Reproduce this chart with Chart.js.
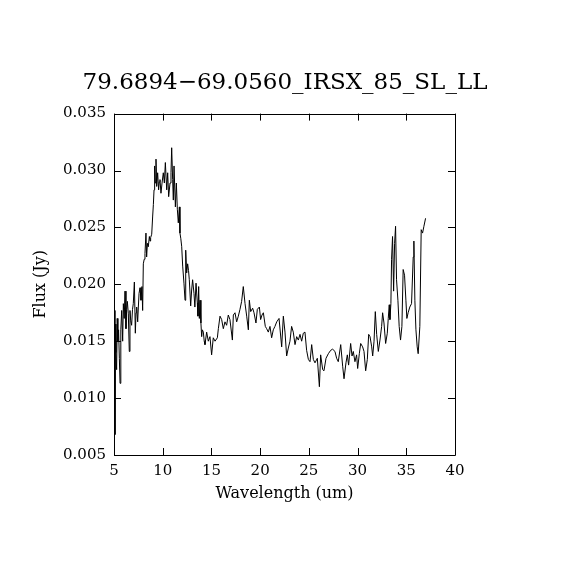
<!DOCTYPE html>
<html>
<head>
<meta charset="utf-8">
<script src="https://cdn.jsdelivr.net/npm/chart.js@4"></script>
<style>
html,body{margin:0;padding:0;background:#fff;}
#wrap{width:570px;height:570px;}
</style>
</head>
<body>
<div id="wrap"><canvas id="c" width="570" height="570"></canvas></div>
<script>
const chartTitle = "79.6894\u221269.0560_IRSX_85_SL_LL";
const xTitle = "Wavelength (um)";
const yTitle = "Flux (Jy)";
const xTicks = [5, 10, 15, 20, 25, 30, 35, 40];
const yTicks = [0.005, 0.010, 0.015, 0.020, 0.025, 0.030, 0.035];

const wavelength = [
5.05,5.10,5.15,5.20,5.27,5.33,5.40,5.47,5.55,5.62,5.70,5.79,5.89,5.96,6.05,6.13,6.23,6.30,6.37,6.47,
6.57,6.64,6.72,6.81,6.90,6.98,7.09,7.19,7.26,7.33,7.43,7.50,7.57,7.67,7.77,7.87,7.94,8.01,8.10,8.18,
8.28,8.35,8.43,8.52,8.63,8.70,8.76,8.87,8.97,9.04,9.11,9.17,9.24,9.31,9.38,9.48,9.58,9.65,9.72,9.82,
9.93,10.06,10.17,10.27,10.41,10.51,10.61,10.75,10.85,10.92,11.02,11.09,11.16,11.30,11.40,11.50,11.60,11.71,11.77,11.86,
11.95,12.05,12.18,12.29,12.36,12.46,12.56,12.65,12.73,12.87,12.97,13.07,13.21,13.30,13.42,13.55,13.62,13.69,13.76,13.83,
13.92,14.00,14.07,14.17,14.26,14.34,14.51,14.68,14.85,15.02,15.19,15.37,15.61,15.71,15.88,16.05,16.22,16.39,16.56,16.73,
16.90,17.15,17.25,17.42,17.59,17.76,17.93,18.10,18.27,18.45,18.62,18.79,18.89,19.03,19.23,19.37,19.57,19.71,19.92,20.05,
20.19,20.33,20.53,20.67,20.84,21.01,21.18,21.35,21.52,21.70,21.94,22.21,22.38,22.55,22.72,22.89,23.06,23.23,23.40,23.58,
23.75,23.92,24.09,24.26,24.43,24.60,24.77,24.95,25.12,25.29,25.46,25.63,25.87,26.08,26.21,26.42,26.55,26.76,27.00,27.24,
27.44,27.68,27.85,28.02,28.27,28.47,28.61,28.81,28.95,29.08,29.29,29.43,29.56,29.73,29.90,30.01,30.18,30.32,30.52,30.66,
30.83,31.00,31.14,31.28,31.45,31.55,31.69,31.82,31.96,32.13,32.30,32.47,32.57,32.71,32.88,33.05,33.15,33.25,33.32,33.42,
33.49,33.59,33.70,33.80,33.90,34.00,34.14,34.27,34.41,34.55,34.68,34.82,34.96,35.06,35.19,35.36,35.54,35.71,35.78,35.88,
35.99,36.12,36.22,36.39,36.53,36.67,36.81,36.98
];
const flux = [
0.0177,0.0068,0.0165,0.0140,0.0125,0.0170,0.0150,0.0160,0.0135,0.0113,0.0160,0.0177,0.0150,0.0183,0.0170,0.0194,0.0161,0.0178,0.0185,0.0174,
0.0141,0.0177,0.0168,0.0164,0.0178,0.0183,0.0202,0.0157,0.0175,0.0180,0.0167,0.0180,0.0192,0.0197,0.0186,0.0198,0.0177,0.0218,0.0222,0.0227,
0.0245,0.0224,0.0236,0.0233,0.0242,0.0238,0.0241,0.0244,0.0260,0.0270,0.0283,0.0304,0.0289,0.0310,0.0286,0.0298,0.0283,0.0290,0.0292,0.0280,
0.0289,0.0298,0.0289,0.0307,0.0283,0.0298,0.0277,0.0289,0.0298,0.0320,0.0292,0.0274,0.0304,0.0268,0.0289,0.0266,0.0254,0.0268,0.0245,0.0240,
0.0233,0.0216,0.0201,0.0186,0.0230,0.0210,0.0218,0.0212,0.0204,0.0181,0.0195,0.0204,0.0192,0.0180,0.0201,0.0184,0.0172,0.0198,0.0170,0.0186,
0.0166,0.0154,0.0160,0.0158,0.0150,0.0147,0.0158,0.0150,0.0154,0.0138,0.0153,0.0150,0.0153,0.0161,0.0172,0.0169,0.0161,0.0167,0.0164,0.0173,
0.0169,0.0151,0.0173,0.0175,0.0167,0.0172,0.0178,0.0185,0.0198,0.0183,0.0172,0.0160,0.0186,0.0176,0.0179,0.0175,0.0166,0.0178,0.0180,0.0169,
0.0173,0.0175,0.0163,0.0161,0.0158,0.0163,0.0153,0.0160,0.0163,0.0167,0.0170,0.0145,0.0172,0.0158,0.0137,0.0144,0.0150,0.0163,0.0158,0.0147,
0.0154,0.0151,0.0156,0.0150,0.0157,0.0158,0.0142,0.0134,0.0132,0.0147,0.0134,0.0131,0.0135,0.0110,0.0138,0.0125,0.0124,0.0135,0.0139,0.0142,
0.0143,0.0141,0.0135,0.0132,0.0147,0.0128,0.0117,0.0131,0.0138,0.0129,0.0148,0.0137,0.0141,0.0132,0.0138,0.0126,0.0139,0.0148,0.0145,0.0141,
0.0124,0.0134,0.0156,0.0154,0.0145,0.0137,0.0150,0.0176,0.0156,0.0141,0.0151,0.0163,0.0175,0.0166,0.0148,0.0157,0.0170,0.0182,0.0169,0.0183,
0.0222,0.0242,0.0194,0.0236,0.0251,0.0204,0.0186,0.0163,0.0151,0.0163,0.0213,0.0208,0.0186,0.0170,0.0175,0.0180,0.0183,0.0224,0.0238,0.0186,
0.0160,0.0145,0.0139,0.0163,0.0248,0.0245,0.0251,0.0258
];

const points = wavelength.map((w, i) => ({x: w, y: flux[i]}));
const FONT = "'DejaVu Serif', 'Liberation Serif', serif";

const frameTicks = {
  id: 'frameTicks',
  afterDraw(chart) {
    const {ctx, chartArea: a, scales: {x, y}} = chart;
    const L = 7;
    ctx.save();
    ctx.strokeStyle = '#000';
    ctx.lineWidth = 1;
    ctx.beginPath();
    ctx.rect(Math.round(a.left) + 0.5, Math.round(a.top) + 0.5,
             Math.round(a.right - a.left), Math.round(a.bottom - a.top));
    x.ticks.forEach(t => {
      const px = Math.round(x.getPixelForValue(t.value)) + 0.5;
      ctx.moveTo(px, a.bottom); ctx.lineTo(px, a.bottom - L);
      ctx.moveTo(px, a.top); ctx.lineTo(px, a.top + L);
    });
    y.ticks.forEach(t => {
      const py = Math.round(y.getPixelForValue(t.value)) + 0.5;
      ctx.moveTo(a.left, py); ctx.lineTo(a.left + L, py);
      ctx.moveTo(a.right, py); ctx.lineTo(a.right - L, py);
    });
    ctx.stroke();
    ctx.restore();
  }
};

new Chart(document.getElementById('c'), {
  type: 'line',
  data: {
    datasets: [{
      data: points,
      borderColor: '#000',
      borderWidth: 1,
      pointRadius: 0,
      tension: 0,
      fill: false
    }]
  },
  options: {
    responsive: false,
    animation: false,
    events: [],
    layout: {padding: 0},
    plugins: {
      legend: {display: false},
      tooltip: {enabled: false},
      title: {
        display: true,
        text: chartTitle,
        color: '#000',
        align: 'center',
        font: {family: FONT, size: 23, weight: 'normal', lineHeight: 1.2},
        padding: {top: 69, bottom: 17}
      }
    },
    scales: {
      x: {
        type: 'linear',
        min: 5, max: 40,
        afterBuildTicks(s) { s.ticks = xTicks.map(v => ({value: v})); },
        afterFit(s) { s.height = 115; },
        grid: {display: false, drawTicks: false},
        border: {display: false},
        ticks: {
          color: '#000', padding: 7, maxRotation: 0,
          font: {family: FONT, size: 15},
          callback: v => String(v)
        },
        title: {
          display: true, text: xTitle, color: '#000',
          font: {family: FONT, size: 16},
          padding: {top: 0, bottom: 67}
        }
      },
      y: {
        type: 'linear',
        min: 0.005, max: 0.035,
        afterBuildTicks(s) { s.ticks = yTicks.map(v => ({value: v})); },
        afterFit(s) { s.width = 114; },
        grid: {display: false, drawTicks: false},
        border: {display: false},
        ticks: {
          color: '#000', padding: 8,
          font: {family: FONT, size: 15},
          callback: v => Number(v).toFixed(3)
        },
        title: {
          display: true, text: yTitle, color: '#000',
          font: {family: FONT, size: 16},
          padding: {top: 31, bottom: 0}
        }
      },
      yRight: {
        type: 'linear',
        position: 'right',
        min: 0.005, max: 0.035,
        afterFit(s) { s.width = 115; },
        grid: {display: false, drawTicks: false},
        border: {display: false},
        ticks: {display: false}
      }
    }
  },
  plugins: [frameTicks]
});
</script>
</body>
</html>
